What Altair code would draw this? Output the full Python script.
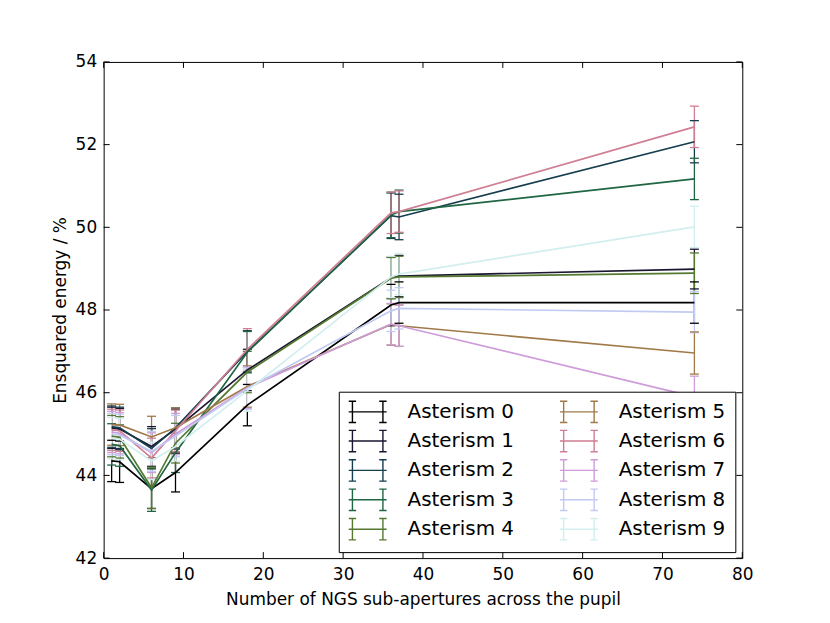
import math
import altair as alt
import pandas as pd

# ---------------- data ----------------
x_values = [1, 2, 6, 9, 18, 36, 37, 74]
series_names = ["Asterism 0", "Asterism 1", "Asterism 2", "Asterism 3", "Asterism 4",
                "Asterism 5", "Asterism 6", "Asterism 7", "Asterism 8", "Asterism 9"]

asterism_0 = [44.35, 44.33, 43.68, 44.07, 45.70, 48.12, 48.18, 48.18]
asterism_1 = [45.15, 45.12, 44.70, 45.12, 46.55, 48.78, 48.82, 48.99]
asterism_2 = [45.18, 45.15, 44.65, 45.15, 47.00, 50.28, 50.25, 52.07]
asterism_3 = [44.75, 44.72, 43.65, 44.55, 46.98, 50.30, 50.38, 51.17]
asterism_4 = [44.95, 44.92, 43.70, 44.78, 46.50, 48.77, 48.80, 48.89]
asterism_5 = [45.23, 45.22, 44.93, 45.15, 46.15, 47.65, 47.62, 46.96]
asterism_6 = [45.10, 45.08, 44.42, 45.08, 47.05, 50.35, 50.38, 52.43]
asterism_7 = [45.05, 45.02, 44.55, 45.00, 46.12, 47.66, 47.62, 45.90]
asterism_8 = [45.00, 44.98, 44.58, 44.95, 46.10, 47.98, 48.04, 47.95]
asterism_9 = [44.90, 44.88, 44.35, 44.70, 46.05, 48.80, 48.87, 50.01]

error_0 = [0.50, 0.50, 0.48, 0.47, 0.50, 0.50, 0.50, 0.50]
error_1 = [0.50, 0.50, 0.48, 0.48, 0.50, 0.50, 0.50, 0.48]
error_2 = [0.50, 0.50, 0.48, 0.48, 0.50, 0.55, 0.55, 0.51]
error_3 = [0.50, 0.50, 0.52, 0.48, 0.50, 0.55, 0.52, 0.50]
error_4 = [0.50, 0.50, 0.50, 0.48, 0.50, 0.50, 0.50, 0.49]
error_5 = [0.50, 0.50, 0.50, 0.48, 0.50, 0.50, 0.50, 0.51]
error_6 = [0.50, 0.50, 0.48, 0.50, 0.50, 0.50, 0.50, 0.50]
error_7 = [0.50, 0.50, 0.48, 0.50, 0.50, 0.50, 0.50, 0.50]
error_8 = [0.50, 0.50, 0.48, 0.50, 0.50, 0.50, 0.50, 0.50]
error_9 = [0.50, 0.50, 0.45, 0.35, 0.50, 0.50, 0.50, 0.50]

x_tick_values = [0, 10, 20, 30, 40, 50, 60, 70, 80]
y_tick_values = [42, 44, 46, 48, 50, 52, 54]

all_values = [asterism_0, asterism_1, asterism_2, asterism_3, asterism_4,
              asterism_5, asterism_6, asterism_7, asterism_8, asterism_9]
all_errors = [error_0, error_1, error_2, error_3, error_4,
              error_5, error_6, error_7, error_8, error_9]

rows = []
for name, vals, errs in zip(series_names, all_values, all_errors):
    for xv, v, e in zip(x_values, vals, errs):
        rows.append({"series": name, "x": xv, "value": v, "lo": v - e, "hi": v + e})
df = pd.DataFrame(rows)

# ---------------- style ----------------
def cubehelix(l, s=0.5, r=-1.5, h=1.0):
    phi = 2 * math.pi * (s / 3 + r * l)
    a = h * l * (1 - l) / 2
    R = l + a * (-0.14861 * math.cos(phi) + 1.78277 * math.sin(phi))
    G = l + a * (-0.29227 * math.cos(phi) - 0.90649 * math.sin(phi))
    B = l + a * (1.97294 * math.cos(phi))
    c = [max(0, min(255, round(v * 255))) for v in (R, G, B)]
    return "#%02x%02x%02x" % tuple(c)

palette = [cubehelix(i / 10) for i in range(len(series_names))]
color_scale = alt.Scale(domain=series_names, range=palette)

W, H = 641, 498
FONT = "DejaVu Sans"

# error-bar glyph: unit = sqrt(symbolSize)/2 = 10 px, spans 38 px to the right
errbar_symbol = ("M-1,0H2.8"
                 "M-0.63,-1.07V1.07M-1,-1.07H-0.26M-1,1.07H-0.26"
                 "M2.43,-1.07V1.07M2.8,-1.07H2.06M2.8,1.07H2.06")

legend = alt.Legend(
    orient="none", legendX=236, legendY=331, columns=2, title=None,
    fillColor="white", strokeColor="black", padding=9,
    rowPadding=1.5, columnPadding=42, symbolType=errbar_symbol, symbolSize=400,
    symbolStrokeWidth=1.4, symbolFillColor="transparent",
    labelFontSize=20, labelFont=FONT, labelColor="black", labelOffset=38,
    zindex=1,
)

xscale = alt.Scale(domain=[0, 80], nice=False, zero=False)
yscale = alt.Scale(domain=[42, 54], nice=False, zero=False)

xaxis = alt.Axis(values=x_tick_values, ticks=False, domain=False, grid=False,
                 labelFontSize=17, labelFont=FONT, labelColor="black", labelPadding=8,
                 labelFlush=False, title="Number of NGS sub-apertures across the pupil",
                 titleFontSize=17, titleFont=FONT, titleFontWeight="normal",
                 titleColor="black", titlePadding=10, format="d")
yaxis = alt.Axis(values=y_tick_values, ticks=False, domain=False, grid=False,
                 labelFontSize=17, labelFont=FONT, labelColor="black", labelPadding=7,
                 labelFlush=False, title="Ensquared energy / %",
                 titleFontSize=17, titleFont=FONT, titleFontWeight="normal",
                 titleColor="black", titlePadding=6, format="d")

color_enc = alt.Color("series:N", scale=color_scale, legend=legend)

base = alt.Chart(df)

lines = base.mark_line(strokeWidth=1.7).encode(
    x=alt.X("x:Q", scale=xscale, axis=xaxis),
    y=alt.Y("value:Q", scale=yscale, axis=yaxis),
    color=color_enc,
)
bars = base.mark_rule(strokeWidth=1.3).encode(
    x="x:Q", y="lo:Q", y2="hi:Q", color=color_enc,
)
caps_lo = base.mark_rule(strokeWidth=1.3, xOffset=-4.5, x2Offset=4.5).encode(
    x="x:Q", x2="x:Q", y="lo:Q", color=color_enc,
)
caps_hi = base.mark_rule(strokeWidth=1.3, xOffset=-4.5, x2Offset=4.5).encode(
    x="x:Q", x2="x:Q", y="hi:Q", color=color_enc,
)

xt = alt.Chart(pd.DataFrame({"t": x_tick_values}))
yt = alt.Chart(pd.DataFrame({"t": y_tick_values}))
tick_style = dict(color="black", strokeWidth=1)
xticks_bottom = xt.mark_rule(**tick_style).encode(x="t:Q", y=alt.value(H), y2=alt.value(H - 6))
xticks_top = xt.mark_rule(**tick_style).encode(x="t:Q", y=alt.value(0), y2=alt.value(6))
yticks_left = yt.mark_rule(**tick_style).encode(y="t:Q", x=alt.value(0), x2=alt.value(6))
yticks_right = yt.mark_rule(**tick_style).encode(y="t:Q", x=alt.value(W), x2=alt.value(W - 6))

chart = alt.layer(
    bars, caps_lo, caps_hi, lines,
    xticks_bottom, xticks_top, yticks_left, yticks_right,
).properties(
    width=W, height=H,
    autosize=alt.AutoSizeParams(type="none"),
    padding={"left": 96, "top": 53, "right": 80, "bottom": 60},
    background="white",
).configure_view(
    stroke="black", strokeWidth=1,
).configure_axis(labelFont=FONT, titleFont=FONT)

chart.save("out.html", embed_options={"renderer": "svg", "actions": False})
